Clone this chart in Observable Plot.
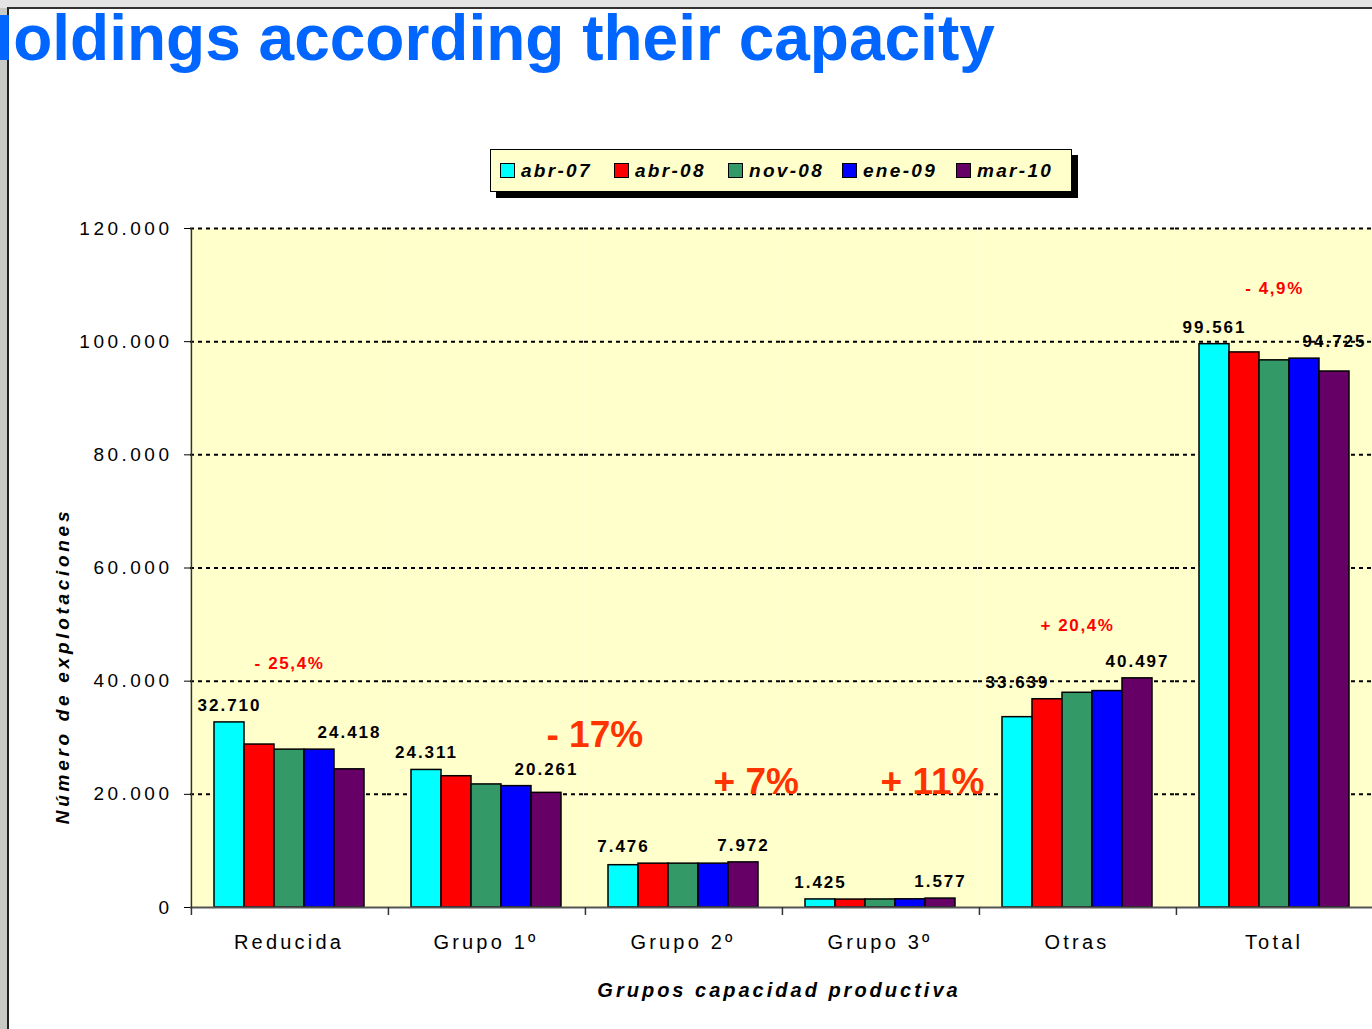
<!DOCTYPE html>
<html>
<head>
<meta charset="utf-8">
<script src="https://cdn.jsdelivr.net/npm/d3@7"></script>
<script src="https://cdn.jsdelivr.net/npm/@observablehq/plot@0.6"></script>
<style>
  html, body { margin: 0; padding: 0; }
  body { width: 1372px; height: 1029px; position: relative; overflow: hidden;
         background: linear-gradient(to bottom, #e4e4e4 0px, #e4e4e4 8px, #c9c9c6 8px); font-family: "Liberation Sans", Arial, sans-serif; }
  #panel { position: absolute; left: 7px; top: 7px; right: -4px; bottom: -4px; background: #fff;
           border-left: 2px solid #222; border-top: 2px solid #333; }
  #title { position: absolute; left: -33px; top: 6px; font: bold 64px/64px "Liberation Sans", Arial, sans-serif;
           color: #0066FF; white-space: nowrap; z-index: 3; }
  #chart { position: absolute; left: 0; top: 0; z-index: 1; }
  #legend { position: absolute; left: 490px; top: 149px; width: 580px; height: 41px; background: #FFFFCC;
            border: 1px solid #000; box-shadow: 6px 6px 0 #000; display: flex; align-items: center; z-index: 2; }
  .item { display: flex; align-items: center; width: 114px; white-space: nowrap; flex: none; }
  .item:first-child { margin-left: 9px; }
  .sw { width: 13px; height: 13px; border: 1.5px solid #000; margin-right: 6px; flex: none; }
  .lt { font-weight: bold; font-style: italic; font-size: 19px; letter-spacing: 2.3px; }
  #ytitle { position: absolute; left: 63px; top: 666px; transform: translate(-50%, -50%) rotate(-90deg);
            white-space: nowrap; font-weight: bold; font-style: italic; font-size: 19px; letter-spacing: 3.7px; z-index: 2; }
  #xtitle { position: absolute; left: 779px; top: 990px; transform: translate(-50%, -50%);
            white-space: nowrap; font-weight: bold; font-style: italic; font-size: 20px; letter-spacing: 3px; z-index: 2; }
  #chart text { font-family: "Liberation Sans", Arial, sans-serif; }
  #chart g[aria-label="y-axis tick label"] text { font-size: 19px; letter-spacing: 3.5px; }
  #chart g[aria-label="fx-axis tick label"] text { font-size: 20px; letter-spacing: 3.2px; }
  #chart g[aria-description="vlabel"] text { letter-spacing: 2px; }
  #chart g[aria-description="pct-small"] text { letter-spacing: 1.6px; }
</style>
</head>
<body>
<div id="panel"></div>
<div id="title">Holdings according their capacity</div>
<div id="legend"></div>
<div id="ytitle">Número de explotaciones</div>
<div id="xtitle">Grupos capacidad productiva</div>
<div id="chart"></div>
<script>
// ---- data ----
const groups = ["Reducida", "Grupo 1º", "Grupo 2º", "Grupo 3º", "Otras", "Total"];
const series = ["abr-07", "abr-08", "nov-08", "ene-09", "mar-10"];
const colors = ["#00FFFF", "#FF0000", "#339966", "#0000FF", "#660066"];
const vAbr07 = [32710, 24311, 7476, 1425, 33639, 99561];
const vAbr08 = [28800, 23200, 7750, 1400, 36800, 98100];
const vNov08 = [27900, 21750, 7750, 1420, 37950, 96700];
const vEne09 = [27900, 21450, 7750, 1450, 38250, 97000];
const vMar10 = [24418, 20261, 7972, 1577, 40497, 94725];
const yTicks = [0, 20000, 40000, 60000, 80000, 100000, 120000];
const labelledSeries = ["abr-07", "mar-10"];
// percentage annotations
const smallGroups = ["Reducida", "Otras", "Total"];
const smallSeries = ["nov-08", "nov-08", "nov-08"];
const smallLevels = [43100, 49800, 109400];
const smallTexts = ["- 25,4%", "+ 20,4%", "- 4,9%"];
const bigGroups = ["Grupo 1º", "Grupo 2º", "Grupo 3º"];
const bigSeries = ["mar-10", "ene-09", "nov-08"];
const bigLevels = [30400, 22100, 22100];
const bigTexts = ["- 17%", "+ 7%", "+ 11%"];

// ---- tables ----
const valueSets = [vAbr07, vAbr08, vNov08, vEne09, vMar10];
const data = [];
series.forEach((s, si) => groups.forEach((g, gi) => data.push({group: g, series: s, value: valueSets[si][gi]})));
// value labels sit above the taller of their own bar and the adjacent inner bar
const labels = [];
labelledSeries.forEach(s => {
  const si = series.indexOf(s);
  const ni = si === 0 ? 1 : si - 1;
  groups.forEach((g, gi) => labels.push({
    group: g, series: s, value: valueSets[si][gi],
    level: Math.max(valueSets[si][gi], valueSets[ni][gi])
  }));
});
const smallAnno = smallGroups.map((g, i) => ({group: g, series: smallSeries[i], value: smallLevels[i], text: smallTexts[i]}));
const bigAnno = bigGroups.map((g, i) => ({group: g, series: bigSeries[i], value: bigLevels[i], text: bigTexts[i]}));

const locale = d3.formatLocale({decimal: ",", thousands: ".", grouping: [3], currency: ["", "€"]});
const fmt = locale.format(",d");

// legend
const legend = document.getElementById("legend");
series.forEach((s, i) => {
  const it = document.createElement("div");
  it.className = "item";
  it.innerHTML = `<div class="sw" style="background:${colors[i]}"></div><span class="lt">${s}</span>`;
  legend.appendChild(it);
});

// ---- layout ----
const W = 1372, H = 1029, mL = 190, mR = 0, mT = 228, mB = 122;
const padOuter = 0.76;
const facetW = (W - mL - mR) / groups.length;
const step = facetW / (series.length + 2 * padOuter);
const edgeOffset = step * (0.5 + padOuter);

const chart = Plot.plot({
  width: W, height: H,
  marginTop: mT, marginBottom: mB, marginLeft: mL, marginRight: mR,
  style: {background: "transparent", color: "#000", overflow: "visible"},
  fx: {domain: groups, padding: 0, label: null, tickSize: 0, tickPadding: 27},
  x: {domain: series, paddingInner: 0, paddingOuter: padOuter, axis: null},
  y: {domain: [0, 120000], ticks: yTicks, tickFormat: fmt, tickSize: 6, tickPadding: 12, label: null},
  color: {domain: series, range: colors},
  marks: [
    Plot.frame({fill: "#FFFFCC", stroke: null}),
    Plot.ruleY(yTicks.filter(v => v > 0), {stroke: "#000", strokeWidth: 2, strokeDasharray: "4 4"}),
    Plot.barY(data, {fx: "group", x: "series", y: "value", fill: "series", stroke: "#000", strokeWidth: 1.5}),
    Plot.ruleY([0], {stroke: "#555", strokeWidth: 2}),
    Plot.ruleX([groups[0]], {fx: d => d, x: () => series[0], y1: 0, y2: 120000, dx: -edgeOffset, stroke: "#333", strokeWidth: 1.5}),
    Plot.ruleX(groups, {fx: d => d, x: () => series[0], y1: 0, y2: 0, insetBottom: -8, dx: -edgeOffset, stroke: "#333", strokeWidth: 1.5}),
    Plot.text(labels, {fx: "group", x: "series", y: "level", text: d => fmt(d.value), dy: -17,
      fontSize: 17, fontWeight: "bold", fill: "#000", ariaDescription: "vlabel"}),
    Plot.text(smallAnno, {fx: "group", x: "series", y: "value", text: "text", fontSize: 17, fontWeight: "bold",
      fill: "#FF0000", ariaDescription: "pct-small"}),
    Plot.text(bigAnno, {fx: "group", x: "series", y: "value", text: "text", textAnchor: "start", fontSize: 37,
      fontWeight: "bold", fill: "#FF3300", ariaDescription: "pct-big"})
  ]
});
document.getElementById("chart").appendChild(chart);
</script>
</body>
</html>
